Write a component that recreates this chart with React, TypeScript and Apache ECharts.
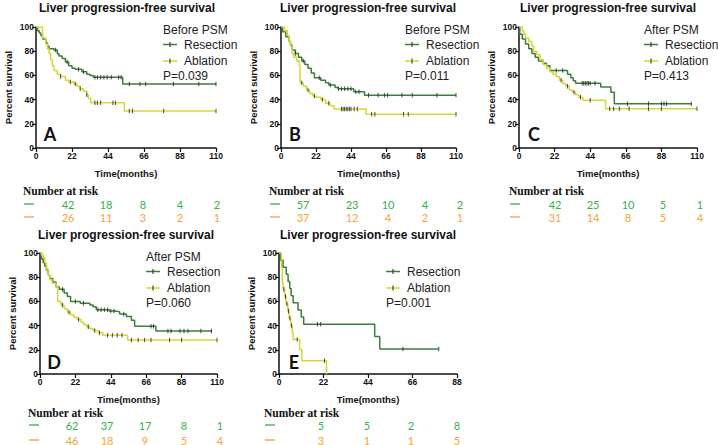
import React, { useEffect, useRef } from "react";
import * as echarts from "echarts";

type Pt = [number, number];

// ---------- data ----------
const AXIS_MAX = [110, 110, 110, 110, 88];
const X_INTERVAL = 22;
const Y_TICKS = [0, 20, 40, 60, 80, 100];

const panelLetters = ["A", "B", "C", "D", "E"];
const panelHeaders = ["Before PSM", "Before PSM", "After PSM", "After PSM", ""];
const pValues = ["P=0.039", "P=0.011", "P=0.413", "P=0.060", "P=0.001"];
const chartTitle = "Liver progression-free survival";
const groupNames = ["Resection", "Ablation"];

// Panel A
const aResection: Pt[] = [[0,100],[1,97],[2,95],[3,93],[4,90],[6,87],[7,84],[8,82],[11,81],[13,78],[14,76],[16,74],[18,71],[20,68],[22,66],[24,65],[28,63],[31,61],[33,60],[35,58.4],[53,52.8],[110,52.8]];
const aResectionCensor = [12,19,26,29,36,37.5,39.5,41.5,43.5,46,50.5,52,57,63.5,67,84,99.5,110];
const aAblation: Pt[] = [[0,100],[4,91],[6,86],[7,82],[8,78],[9,73],[10,68],[11,64],[13,61],[15,59],[18,56],[20,54.5],[23,53],[25,51],[27,49],[29,47],[31,44],[32,41],[33.4,37.5],[54,30.6],[110,30.6]];
const aAblationCensor = [15,21,24,27,31,36,37.5,39.5,47,48.5,57,59,78,110];

// Panel B
const bResection: Pt[] = [[0,100],[1,96],[3,92],[5,88],[6,85],[7,81],[9,78],[11,75],[13,72],[15,69],[17,66],[19,62],[21,58],[25,56],[28,54],[30,52],[34,50],[36,49],[45.7,46.5],[52.5,43.5],[110,43.5]];
const bResectionCensor = [9,14,24,31,36,38,40,42,44,47,49,55,61,65,67,76,82.5,98,110];
const bAblation: Pt[] = [[0,100],[2,97],[4,93],[5,88],[6,84],[7,78],[8,75],[10,72],[11.5,68],[12,54],[14,51],[16,48],[18,45],[20,43],[22,42],[25,40],[28,37],[31,35],[33.5,32.2],[53.5,27.8],[110,27.8]];
const bAblationCensor = [13,17,21,26,30,38,39,40,41,42,43,44,46,48,57,59,77,80,110];

// Panel C
const cResection: Pt[] = [[0,100],[0.5,94],[2,90],[4,86],[6,82],[8,78],[10,75],[12,72],[15,70],[17,68],[19,64],[30,61],[32,58],[33.5,55.5],[35,53.5],[50.5,50.5],[56.8,46],[58.9,36.5],[106.5,36.5]];
const cResectionCensor = [23,27,39,40,41,42,43,44,47,67,80,88,89.6,91.2,106.5];
const cAblation: Pt[] = [[0,100],[2,97],[3,94],[4,91],[6,88],[8,84],[9,80],[11,77],[13,73],[15,69],[17,66],[19,63],[21,61],[23,59],[25,56],[27,53],[29,51],[31,48],[33,46],[35,44],[37,42],[39.5,39.5],[53.5,32.5],[110,32.5]];
const cAblationCensor = [26,30,34,38,44,56,58.5,62,68,80,88,110];

// Panel D
const dResection: Pt[] = [[0,100],[1,95],[2,92],[3,89],[4,86],[5,82],[6,79],[8,76],[10,72],[12,70],[15,67],[17,64],[19,60],[25,58.5],[31,57],[33,55.5],[35,53],[43,52],[47,51.5],[49.5,49.5],[53.7,47.5],[56.8,44.5],[58.8,39.5],[72,35.5],[107,35.5]];
const dResectionCensor = [14,22,27,36,38,40,42,44,46,52,69,70.5,79.5,81.5,87,89.5,92,100,106.5];
const dAblation: Pt[] = [[0,100],[1,98],[2,96],[3,92],[4,87],[5,82],[6,78],[7.5,75],[10,72],[11,60],[13,57],[15,54],[17,51],[19,49],[21,47],[23,45],[25.5,43],[27,41],[29,39],[31,37.5],[33,36],[36,34],[39,32],[54.5,28],[110,28]];
const dAblationCensor = [14,18,24,30,34,37,42,45,48,51,56.8,61,65,69,80.5,88,110];

// Panel E
const eResection: Pt[] = [[0,100],[0.8,94.1],[2,88.2],[3.6,82.4],[4.5,76.5],[5.3,70.6],[6,64.7],[7,58.8],[9.4,52.9],[11,47.1],[12.2,41.2],[47.3,30.9],[49.8,20.6],[79,20.6]];
const eResectionCensor = [19,20.6,61.3,79];
const eAblation: Pt[] = [[0,100],[1.2,88],[1.6,76],[2,70],[2.8,64],[3.5,58],[4.3,52],[5,46],[5.8,40],[6.5,34],[7,28.5],[10.2,20],[11.3,11],[23.5,0]];
const eAblationCensor = [2.4,3.2,3.9,4.7,5.4,6.2,9,22.5];

// Numbers at risk
const riskResection = [[42,18,8,4,2],[57,23,10,4,2],[42,25,10,5,1],[62,37,17,8,1],[5,5,2,8]];
const riskAblation = [[26,11,3,2,1],[37,12,4,2,1],[31,14,8,5,4],[46,18,9,5,4],[3,1,1,5]];

const curves = [
  [aResection, aAblation],
  [bResection, bAblation],
  [cResection, cAblation],
  [dResection, dAblation],
  [eResection, eAblation],
];
const censors = [
  [aResectionCensor, aAblationCensor],
  [bResectionCensor, bAblationCensor],
  [cResectionCensor, cAblationCensor],
  [dResectionCensor, dAblationCensor],
  [eResectionCensor, eAblationCensor],
];

// ---------- layout ----------
const GRIDS = [
  { left: 36, top: 27, width: 180, height: 121 },
  { left: 281, top: 27, width: 175, height: 121 },
  { left: 519, top: 27, width: 178, height: 121 },
  { left: 40, top: 253, width: 177, height: 121 },
  { left: 279, top: 253, width: 178, height: 121 },
];
const TITLE_POS = [[127, 8], [368, 8], [608, 8], [126, 235], [368, 235]];
const LEGEND_POS = [[163, 30], [405, 30], [644, 30], [146, 257], [386, 257]];
const LETTER_POS = [[50, 134], [295, 134], [534, 134], [54, 362], [294, 362]];
const RISK_HEAD = [[23, 191], [269, 191], [509, 191], [28, 413], [264, 413]];
const RISK_ROWS = [[204, 217], [204, 217], [204, 217], [425, 440], [425, 440]];
const RISK_X = [
  [68, 106, 143, 180, 217],
  [303, 352, 388, 425, 460],
  [555, 593, 628, 663, 700],
  [72, 107, 145, 184, 220],
  [321, 367, 411, 457],
];

const GREEN = "#3a7f3a";
const YELLOW = "#d6d636";
const RISK_GREEN = "#35b04a";
const RISK_ORANGE = "#f4a33a";
const SANS = "Liberation Sans, Arial, sans-serif";

function stepValue(curve: Pt[], t: number): number {
  let v = curve[0][1];
  for (const p of curve) {
    if (p[0] <= t) v = p[1];
  }
  return v;
}

export default function App() {
  const ref = useRef<HTMLDivElement>(null);

  useEffect(() => {
    if (!ref.current) return;
    const chart = echarts.init(ref.current, undefined, { renderer: "svg" });

    const xAxis: any[] = [];
    const yAxis: any[] = [];
    const series: any[] = [];
    const graphic: any[] = [];

    GRIDS.forEach((g, i) => {
      xAxis.push({
        gridIndex: i,
        type: "value",
        min: 0,
        max: AXIS_MAX[i],
        interval: X_INTERVAL,
        axisLine: { show: true, onZero: false, lineStyle: { color: "#111", width: 1.5 } },
        axisTick: { show: true, length: 4, lineStyle: { color: "#111", width: 1.2 } },
        axisLabel: { fontSize: 8.5, fontWeight: "bold", color: "#111", margin: 3, fontFamily: SANS },
        splitLine: { show: false },
        name: "Time(months)",
        nameLocation: "middle",
        nameGap: 20,
        nameTextStyle: { fontSize: 9.5, fontWeight: "bold", color: "#111", fontFamily: SANS },
      });
      yAxis.push({
        gridIndex: i,
        type: "value",
        min: Y_TICKS[0],
        max: Y_TICKS[Y_TICKS.length - 1],
        interval: 20,
        axisLine: { show: true, onZero: false, lineStyle: { color: "#111", width: 1.5 } },
        axisTick: { show: true, length: 4, lineStyle: { color: "#111", width: 1.2 } },
        axisLabel: { fontSize: 8.5, fontWeight: "bold", color: "#111", margin: 2, fontFamily: SANS },
        splitLine: { show: false },
        name: "Percent survival",
        nameLocation: "middle",
        nameGap: 23,
        nameTextStyle: { fontSize: 9.5, fontWeight: "bold", color: "#111", fontFamily: SANS },
      });

      const colors = [GREEN, YELLOW];
      curves[i].forEach((c, k) => {
        series.push({
          type: "line",
          name: groupNames[k],
          xAxisIndex: i,
          yAxisIndex: i,
          step: "end",
          showSymbol: false,
          symbol: "none",
          lineStyle: { color: colors[k], width: 1.5 },
          itemStyle: { color: colors[k] },
          data: c,
          z: 2,
        });
        series.push({
          type: "scatter",
          name: groupNames[k] + " censored",
          xAxisIndex: i,
          yAxisIndex: i,
          symbol: "rect",
          symbolSize: [1, 4.5],
          itemStyle: { color: "#222" },
          data: censors[i][k].map((t) => [t, stepValue(c, t)]),
          z: 3,
        });
      });

      // title
      graphic.push({
        type: "text",
        x: TITLE_POS[i][0],
        y: TITLE_POS[i][1],
        style: {
          text: chartTitle,
          font: `bold 12px ${SANS}`,
          fill: "#111",
          textAlign: "center",
          textVerticalAlign: "middle",
        },
      });

      // legend
      const [lx, ly] = LEGEND_POS[i];
      if (panelHeaders[i]) {
        graphic.push({
          type: "text",
          x: lx,
          y: ly,
          style: { text: panelHeaders[i], font: `12px ${SANS}`, fill: "#222", textVerticalAlign: "middle" },
        });
      }
      groupNames.forEach((nm, k) => {
        const yy = ly + 14.5 + k * 16.5;
        graphic.push({
          type: "line",
          shape: { x1: lx, y1: yy, x2: lx + 14, y2: yy },
          style: { stroke: colors[k], lineWidth: 1.5 },
        });
        graphic.push({
          type: "line",
          shape: { x1: lx + 7, y1: yy - 2.5, x2: lx + 7, y2: yy + 2.5 },
          style: { stroke: "#222", lineWidth: 1 },
        });
        graphic.push({
          type: "text",
          x: lx + 21,
          y: yy,
          style: { text: nm, font: `12px ${SANS}`, fill: "#222", textVerticalAlign: "middle" },
        });
      });
      graphic.push({
        type: "text",
        x: lx,
        y: ly + 46,
        style: { text: pValues[i], font: `12px ${SANS}`, fill: "#222", textVerticalAlign: "middle" },
      });

      // panel letter
      graphic.push({
        type: "text",
        x: LETTER_POS[i][0],
        y: LETTER_POS[i][1],
        style: {
          text: panelLetters[i],
          font: `bold 18px Lato, ${SANS}`,
          fill: "#111",
          textAlign: "center",
          textVerticalAlign: "middle",
        },
      });

      // risk table
      const [hx, hy] = RISK_HEAD[i];
      graphic.push({
        type: "text",
        x: hx,
        y: hy,
        style: {
          text: "Number at risk",
          font: `bold 11.5px "Liberation Serif", "Times New Roman", serif`,
          fill: "#111",
          textVerticalAlign: "middle",
        },
      });
      const rows = [riskResection[i], riskAblation[i]];
      const rowColors = [RISK_GREEN, RISK_ORANGE];
      rows.forEach((vals, k) => {
        const ry = RISK_ROWS[i][k];
        graphic.push({
          type: "line",
          shape: { x1: hx + 1, y1: ry, x2: hx + 11, y2: ry },
          style: { stroke: rowColors[k], lineWidth: 1.3 },
        });
        vals.forEach((v, j) => {
          graphic.push({
            type: "text",
            x: RISK_X[i][j],
            y: ry,
            style: {
              text: String(v),
              font: `11px Lato, "Open Sans", sans-serif`,
              fill: rowColors[k],
              textAlign: "center",
              textVerticalAlign: "middle",
            },
          });
        });
      });
    });

    chart.setOption({
      animation: false,
      backgroundColor: "#ffffff",
      grid: GRIDS.map((g) => ({ ...g, containLabel: false })),
      xAxis,
      yAxis,
      series,
      graphic,
    });

    return () => chart.dispose();
  }, []);

  return (
    <div
      ref={ref}
      style={{ position: "absolute", left: 0, top: 0, width: 718, height: 445, background: "#fff" }}
    />
  );
}
